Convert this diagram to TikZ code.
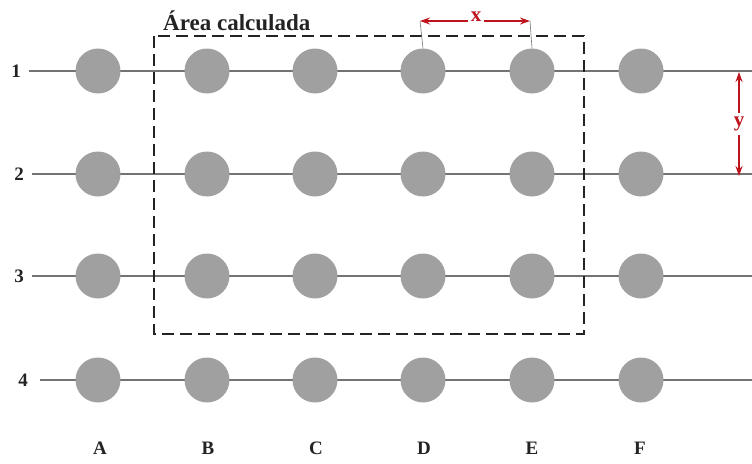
\documentclass[tikz,border=0pt]{standalone}
\usepackage{fontspec}
\setmainfont{Liberation Serif}
\usetikzlibrary{arrows.meta}
\definecolor{dotgray}{RGB}{160,160,160}
\definecolor{linegray}{RGB}{115,115,115}
\definecolor{txt}{RGB}{35,35,35}
\definecolor{dimred}{RGB}{190,20,30}
\begin{document}
\begin{tikzpicture}[x=1pt,y=-1pt,
  post/.style={circle,fill=dotgray,minimum size=45pt,inner sep=0pt},
  wire/.style={draw=linegray,line width=2pt},
  lab/.style={text=txt,font=\bfseries\fontsize{19}{19}\selectfont,inner sep=0pt},
  dimlab/.style={text=dimred,font=\bfseries\fontsize{21}{21}\selectfont,inner sep=0pt},
  dim/.style={draw=dimred,line width=1.8pt,-{Stealth[length=10pt,width=7pt]}},
  tick/.style={draw=linegray,line width=0.6pt}]
\useasboundingbox (0,0) rectangle (752,463);
% rows
\foreach \r/\y/\lx/\sx in {1/71/16/29, 2/174/19/32, 3/276/19/32, 4/380/23/40}{
  \node[lab] (r\r) at (\lx,\y) {\r};
  \coordinate (s\r) at (\sx,\y);
  \coordinate (e\r) at (752,\y);
  \draw[wire] (s\r) -- (e\r);
  \foreach \c/\x in {A/98,B/207,C/315,D/423,E/532,F/641}{
    \node[post] (\c\r) at (\x,\y) {};
  }
}
% column labels
\foreach \c/\x in {A/100,B/208,C/316,D/424,E/532,F/640}{
  \node[lab] (l\c) at (\x,448) {\c};
}
% calculated area
\coordinate (ka) at (154,36);
\coordinate (kb) at (584,334);
\draw[line width=1.6pt,dash pattern=on 12pt off 6pt,txt] (ka) rectangle (kb);
\node[lab,anchor=south west,font=\bfseries\fontsize{23}{23}\selectfont] (area) at (163,31) {Área calculada};
% x dimension
\coordinate (xa) at (420,21);
\coordinate (xb) at (530,21);
\draw[tick] (xa) -- (D1.north);
\draw[tick] (xb) -- (E1.north);
\node[dimlab] (xl) at (476,17) {x};
\draw[dim] (xl.west) ++(-3,4) -- (xa);
\draw[dim] (xl.east) ++(3,4) -- (xb);
% y dimension
\coordinate (ya) at (739,72);
\coordinate (yb) at (739,176);
\node[dimlab] (yl) at (739,124) {y};
\draw[dim] (yl.north) ++(0,-4) -- (ya);
\draw[dim] (yl.south) ++(0,4) -- (yb);
\end{tikzpicture}
\end{document}
